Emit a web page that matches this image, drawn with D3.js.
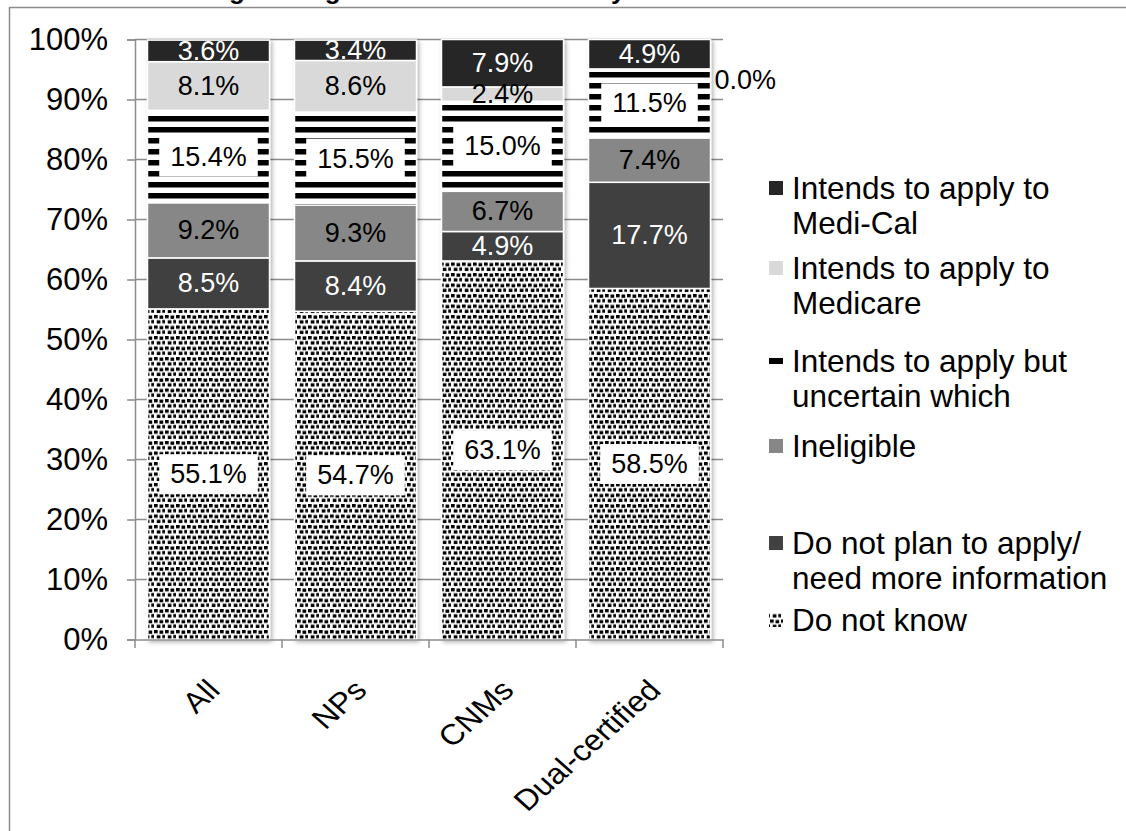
<!DOCTYPE html>
<html>
<head>
<meta charset="utf-8">
<script src="https://cdn.jsdelivr.net/npm/d3@7"></script>
<style>
  html, body { margin: 0; padding: 0; background: #fff; }
  svg { display: block; }
  text { font-family: "Liberation Sans", Arial, sans-serif; }
</style>
</head>
<body>
<svg id="chart" width="1126" height="831"></svg>
<script>
// ---------- data ----------
const titleText = "Billing Among Nurse Practitioners by Certification";
const categories = ["All", "NPs", "CNMs", "Dual-certified"];
const doNotKnow   = [55.1, 54.7, 63.1, 58.5];
const doNotPlan   = [8.5, 8.4, 4.9, 17.7];
const ineligible  = [9.2, 9.3, 6.7, 7.4];
const uncertain   = [15.4, 15.5, 15.0, 11.5];
const medicare    = [8.1, 8.6, 2.4, 0.0];
const mediCal     = [3.6, 3.4, 7.9, 4.9];
const yTickValues = [0, 10, 20, 30, 40, 50, 60, 70, 80, 90, 100];
const seriesKeys  = ["dnk", "dnp", "inel", "unc", "mcare", "mcal"];
const legendLabels = {
  mcal:  ["Intends to apply to", "Medi-Cal"],
  mcare: ["Intends to apply to", "Medicare"],
  unc:   ["Intends to apply but", "uncertain which"],
  inel:  ["Ineligible"],
  dnp:   ["Do not plan to apply/", "need more information"],
  dnk:   ["Do not know"]
};
const legendOrder = ["mcal", "mcare", "unc", "inel", "dnp", "dnk"];

// ---------- styles ----------
const fills = {
  dnk: "url(#dots)", dnp: "#414141", inel: "#878787",
  unc: "url(#stripes)", mcare: "#d9d9d9", mcal: "#262626"
};
const labelColor = { dnk: "#000", dnp: "#fff", inel: "#000", unc: "#000", mcare: "#000", mcal: "#fff" };
const boxed = { dnk: true, unc: true };

const rows = categories.map((c, i) => ({
  cat: c, dnk: doNotKnow[i], dnp: doNotPlan[i], inel: ineligible[i],
  unc: uncertain[i], mcare: medicare[i], mcal: mediCal[i]
}));

const svg = d3.select("#chart");
const defs = svg.append("defs");

// dotted confetti pattern
const dots = defs.append("pattern").attr("id", "dots")
  .attr("patternUnits", "userSpaceOnUse").attr("width", 11).attr("height", 10.5);
dots.append("rect").attr("width", 11).attr("height", 10.5).attr("fill", "#fff");
[[0,0],[5.5,0.5],[2.75,5.25],[8.25,5]].forEach(([x, y]) =>
  dots.append("rect").attr("x", x).attr("y", y).attr("width", 3.7).attr("height", 3.3).attr("fill", "#000"));

// horizontal stripes pattern
const stripes = defs.append("pattern").attr("id", "stripes")
  .attr("patternUnits", "userSpaceOnUse").attr("width", 10).attr("height", 11).attr("y", 6);
stripes.append("rect").attr("width", 10).attr("height", 11).attr("fill", "#fff");
stripes.append("rect").attr("width", 10).attr("height", 5.5).attr("fill", "#000");

const shadow = defs.append("filter").attr("id", "shadow")
  .attr("x", "-10%").attr("y", "-10%").attr("width", "130%").attr("height", "130%");
shadow.append("feDropShadow").attr("dx", 2).attr("dy", 2).attr("stdDeviation", 2)
  .attr("flood-color", "#000").attr("flood-opacity", 0.3);

// ---------- frame & title ----------
svg.append("rect").attr("x", 9.5).attr("y", 7.5).attr("width", 1200).attr("height", 900)
  .attr("fill", "#fff").attr("stroke", "#8c8c8c").attr("stroke-width", 1.5);
svg.append("text").attr("x", 165.5).attr("y", -1.5)
  .attr("font-size", 26).attr("font-weight", "bold").attr("fill", "#000")
  .text(titleText);

// ---------- scales ----------
const y = d3.scaleLinear().domain([0, 100]).range([639.5, 39.5]);
const x = d3.scaleBand().domain(categories).range([135, 723])
  .paddingInner(0.17).paddingOuter(0.085);

// gridlines
svg.append("g").selectAll("line").data(yTickValues.filter(v => v > 0)).join("line")
  .attr("x1", 135).attr("x2", 723)
  .attr("y1", d => y(d)).attr("y2", d => y(d))
  .attr("stroke", "#8c8c8c").attr("stroke-width", 1.5);

// y axis
const yAxis = svg.append("g").attr("transform", "translate(135,0)")
  .call(d3.axisLeft(y).tickValues(yTickValues).tickFormat(d => d + "%").tickSize(8).tickPadding(19));
yAxis.select(".domain").attr("stroke", "#8c8c8c").attr("stroke-width", 1.5);
yAxis.selectAll(".tick line").attr("stroke", "#8c8c8c").attr("stroke-width", 1.5);
yAxis.selectAll(".tick text").attr("font-size", 31).attr("fill", "#000")
  .attr("font-family", "'Liberation Sans', Arial, sans-serif");

// ---------- bars ----------
const stacked = d3.stack().keys(seriesKeys)(rows);
const barsG = svg.append("g").attr("filter", "url(#shadow)");
stacked.forEach(s => {
  barsG.append("g").selectAll("rect").data(s).join("rect")
    .attr("x", d => x(d.data.cat))
    .attr("width", x.bandwidth())
    .attr("y", d => y(d[1]))
    .attr("height", d => y(d[0]) - y(d[1]))
    .attr("fill", fills[s.key])
    .attr("stroke", "#fff").attr("stroke-width", 1.5);
});

// x axis
const xAxis = svg.append("g").attr("transform", "translate(0,639.5)")
  .call(d3.axisBottom(x).tickSize(0).tickFormat(""));
xAxis.select(".domain").attr("stroke", "#8c8c8c").attr("stroke-width", 1.5);
const catTicks = [135].concat(categories.map(c => x(c) + x.bandwidth() / 2 + x.step() / 2));
svg.append("g").selectAll("line").data(catTicks).join("line")
  .attr("x1", d => d).attr("x2", d => d).attr("y1", 639.5).attr("y2", 648)
  .attr("stroke", "#8c8c8c").attr("stroke-width", 1.5);

// category labels
svg.append("g").selectAll("text").data(categories).join("text")
  .attr("transform", d => `translate(${x(d) + x.bandwidth() / 2 + 13},692) scale(1.12,1) rotate(-45)`)
  .attr("text-anchor", "end").attr("font-size", 29).attr("fill", "#000")
  .text(d => d);

// ---------- data labels ----------
const labelsG = svg.append("g");
stacked.forEach(s => {
  s.forEach(d => {
    const v = d[1] - d[0];
    const cx = x(d.data.cat) + x.bandwidth() / 2;
    const cy = (y(d[0]) + y(d[1])) / 2;
    const txt = v.toFixed(1) + "%";
    if (v === 0) {
      labelsG.append("text").attr("x", x(d.data.cat) + x.bandwidth() + 4).attr("y", y(d[1]) + 11)
        .attr("dominant-baseline", "central").attr("font-size", 27).attr("fill", "#000").text(txt);
      return;
    }
    const g = labelsG.append("g");
    const t = g.append("text").attr("x", cx).attr("y", cy)
      .attr("text-anchor", "middle").attr("dominant-baseline", "central")
      .attr("font-size", 27).attr("fill", labelColor[s.key]).text(txt);
    if (boxed[s.key]) {
      const w = t.node().getComputedTextLength();
      g.insert("rect", "text").attr("x", cx - w / 2 - 11).attr("y", cy - 20)
        .attr("width", w + 22).attr("height", 40).attr("fill", "#fff");
    }
  });
});

// ---------- legend ----------
const legendY = { mcal: 188, mcare: 268, unc: 361, inel: 446, dnp: 543, dnk: 620 };
const lg = svg.append("g");
legendOrder.forEach(k => {
  const cy = legendY[k];
  if (k === "unc") {
    lg.append("rect").attr("x", 769).attr("y", cy - 7).attr("width", 14).attr("height", 14).attr("fill", "#fff");
    lg.append("rect").attr("x", 769).attr("y", cy - 3).attr("width", 14).attr("height", 6).attr("fill", "#000");
  } else {
    lg.append("rect").attr("x", 769).attr("y", cy - 7).attr("width", 14).attr("height", 14)
      .attr("fill", fills[k]);
  }
  legendLabels[k].forEach((line, i) => {
    lg.append("text").attr("x", 792).attr("y", cy + i * 35)
      .attr("dominant-baseline", "central").attr("font-size", 31.5).attr("fill", "#000")
      .text(line);
  });
});
</script>
</body>
</html>
